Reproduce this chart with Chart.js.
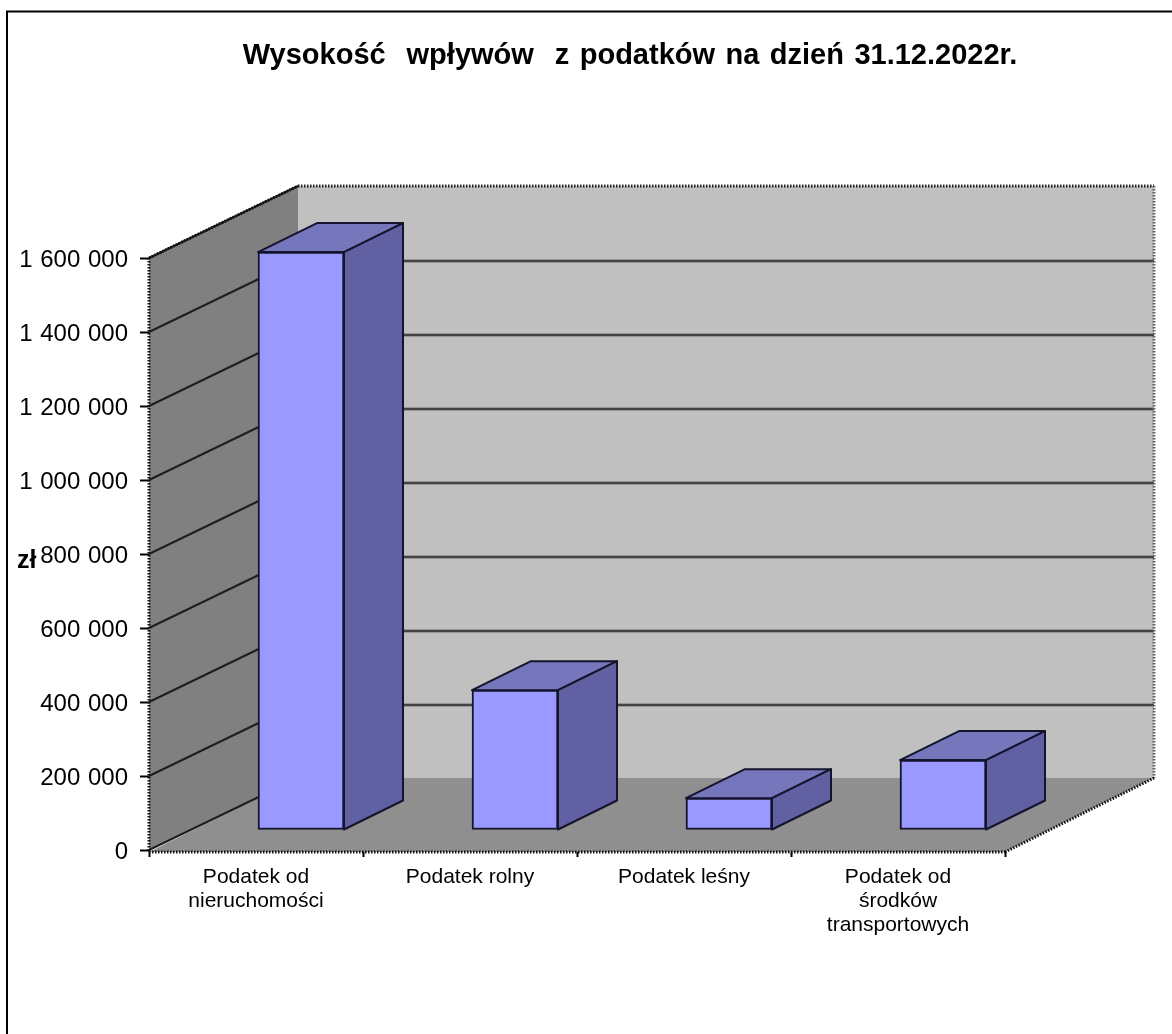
<!DOCTYPE html>
<html><head><meta charset="utf-8">
<style>html,body{margin:0;padding:0;background:#fff}canvas{display:block}</style>
<script src="https://cdn.jsdelivr.net/npm/chart.js@4"></script>
</head><body>
<canvas id="c" width="1172" height="1034"></canvas>
<script>
const categories = [['Podatek od','nieruchomości'],'Podatek rolny','Podatek leśny',['Podatek od','środków','transportowych']];
const values = [1562000, 378000, 86000, 189000];
const titleText = 'Wysokość  wpływów  z podatków na dzień 31.12.2022r.';
const unitLabel = 'zł';

const FONT = '"Liberation Sans", Arial, sans-serif';
const wall = {dx:149, dy:-72};
const barOffset = {dx:45, dy:-20};
const barDepth = {dx:59, dy:-29};

function poly(ctx, pts, fill, stroke, lw, dash){
  ctx.save();
  ctx.beginPath();
  pts.forEach((p,i)=> i?ctx.lineTo(p[0],p[1]):ctx.moveTo(p[0],p[1]));
  ctx.closePath();
  if(fill){ctx.fillStyle=fill;ctx.fill();}
  if(stroke){ctx.strokeStyle=stroke;ctx.lineWidth=lw||1;ctx.lineJoin='round';if(dash)ctx.setLineDash(dash);ctx.stroke();}
  ctx.restore();
}
function line(ctx, a, b, color, lw, dash){
  ctx.save();ctx.beginPath();ctx.moveTo(a[0],a[1]);ctx.lineTo(b[0],b[1]);
  ctx.strokeStyle=color;ctx.lineWidth=lw;if(dash)ctx.setLineDash(dash);ctx.stroke();ctx.restore();
}

const plugin3d = {
  id:'plugin3d',
  afterLayout(chart){
    const t=chart.titleBlock; const cx=630, half=t.width/2;
    t.left=cx-half; t.right=cx+half;
    if(!t._spaced){
      const origDraw=t.draw;
      t.draw=function(area){chart.ctx.save();chart.ctx.wordSpacing='2.4px';origDraw.call(this,area);chart.ctx.restore();};
      t._spaced=true;
    }
    const y=chart.scales.y;
    if(!y._shifted){
      const orig=y.drawLabels;
      y.drawLabels=function(area){chart.ctx.save();chart.ctx.translate(0,2);chart.ctx.wordSpacing='1px';orig.call(this,area);chart.ctx.restore();};
      y._shifted=true;
    }
  },
  beforeDraw(chart){
    const ctx=chart.ctx;
    ctx.save();
    ctx.fillStyle='#fff';ctx.fillRect(0,0,chart.width,chart.height);
    ctx.restore();
    line(ctx,[7,11],[7,chart.height],'#000',2);
    line(ctx,[6,11.5],[chart.width,11.5],'#000',2);
  },
  beforeDatasetsDraw(chart){
    const ctx=chart.ctx, a=chart.chartArea, y=chart.scales.y;
    const L=a.left,R=a.right,T=a.top,B=a.bottom,dx=wall.dx,dy=wall.dy;
    const dash=[1.5,1.5];
    poly(ctx,[[L+dx,T+dy],[R+dx,T+dy],[R+dx,B+dy],[L+dx,B+dy]],'#c0c0c0');
    poly(ctx,[[L,B+2],[L+dx,B+dy],[R+dx,B+dy],[R,B+2]],'#8f8f8f');
    poly(ctx,[[L,T],[L+dx,T+dy],[L+dx,B+dy],[L,B]],'#808080');
    y.ticks.forEach(t=>{
      const py=y.getPixelForValue(t.value);
      line(ctx,[L,py],[L+dx,py+dy],'#1e1e1e',2);
      if(t.value>0 && t.value<y.max){
        line(ctx,[L+dx,py+dy+1],[R+dx,py+dy+1],'#8a8a8a',3.5);
        line(ctx,[L+dx,py+dy+1],[R+dx,py+dy+1],'#2a2a2a',1.6);
      }
    });
    line(ctx,[L+dx,T+dy],[R+dx,T+dy],'#222',3,dash);
    line(ctx,[R+dx,T+dy],[R+dx,B+dy],'#666',3,dash);
    line(ctx,[L,T],[L+dx,T+dy],'#111',3,dash);
    line(ctx,[L,T],[L,B+2],'#111',3,dash);
    line(ctx,[L,B+2],[R,B+2],'#111',3,dash);
    line(ctx,[R,B+2],[R+dx,B+dy],'#111',3,dash);
  },
  beforeDatasetDraw(chart,args){
    const ctx=chart.ctx;
    ctx.save();
    ctx.translate(barOffset.dx,barOffset.dy);
    args.meta.data.forEach(el=>{
      const p=el.getProps(['x','y','base','width'],true);
      const l=p.x-p.width/2, r=p.x+p.width/2, d=barDepth;
      poly(ctx,[[l,p.y],[l+d.dx,p.y+d.dy],[r+d.dx,p.y+d.dy],[r,p.y]],'#7676bd','#14142c',2);
      poly(ctx,[[r,p.y],[r+d.dx,p.y+d.dy],[r+d.dx,p.base+d.dy],[r,p.base]],'#6060a2','#14142c',2);
    });
  },
  afterDatasetDraw(chart){ chart.ctx.restore(); },
  afterDraw(chart){
    const ctx=chart.ctx;
    ctx.save();
    ctx.font='bold 25px '+FONT;ctx.fillStyle='#000';ctx.textAlign='left';ctx.textBaseline='middle';
    ctx.fillText(unitLabel,17,561);
    ctx.restore();
  }
};

new Chart(document.getElementById('c'),{
  type:'bar',
  data:{labels:categories,datasets:[{
    data:values,
    backgroundColor:'#9999ff',
    borderColor:'#14142c',
    borderWidth:2,
    borderSkipped:false,
    barThickness:86,
    clip:false
  }]},
  plugins:[plugin3d],
  options:{
    responsive:false,animation:false,
    layout:{padding:{left:0,right:167,top:0,bottom:0}},
    plugins:{
      legend:{display:false},tooltip:{enabled:false},
      title:{display:true,text:titleText,color:'#000',fullSize:true,
        font:{family:FONT,size:29,weight:'bold',lineHeight:1.2},
        padding:{top:39,bottom:184.2}}
    },
    scales:{
      x:{
        afterFit(s){s.height=184;},
        grid:{drawOnChartArea:false,color:'#000',tickColor:'#000',tickLength:7,tickWidth:2,offset:true},
        border:{display:false},
        ticks:{color:'#000',font:{family:FONT,size:21,lineHeight:1.143},padding:8,maxRotation:0,minRotation:0,autoSkip:false}
      },
      y:{
        min:0,max:1600000,
        afterFit(s){s.width=149;},
        grid:{drawOnChartArea:false,color:'#000',tickColor:'#000',tickLength:9,tickWidth:2},
        border:{display:false},
        ticks:{stepSize:200000,color:'#000',padding:12,font:{family:FONT,size:24},
          callback(v){return String(v).replace(/\B(?=(\d{3})+$)/g,' ');}}
      }
    }
  }
});
</script>
</body></html>
